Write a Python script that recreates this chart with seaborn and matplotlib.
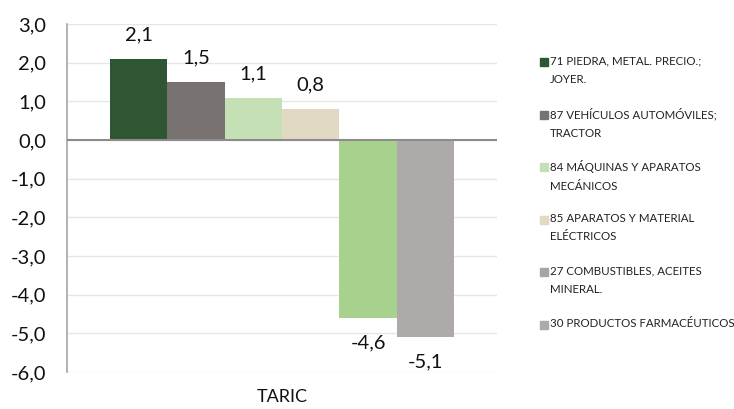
import pandas as pd
import matplotlib.pyplot as plt
import seaborn as sns
from matplotlib.patches import Rectangle

# data
categories = [
    "71 PIEDRA, METAL. PRECIO.;\nJOYER.",
    "87 VEHÍCULOS AUTOMÓVILES;\nTRACTOR",
    "84 MÁQUINAS Y APARATOS\nMECÁNICOS",
    "85 APARATOS Y MATERIAL\nELÉCTRICOS",
    "27 COMBUSTIBLES, ACEITES\nMINERAL.",
    "30 PRODUCTOS FARMACÉUTICOS",
]
values = [2.1, 1.5, 1.1, 0.8, -4.6, -5.1]
group = "TARIC"
bar_colors = ["#2E5632", "#77716F", "#C6E0B5", "#E0DAC3", "#A9D18E", "#AEAAAA"]
legend_colors = ["#2E5632", "#77716F", "#C6E0B5", "#E0DAC3", "#A5A5A5", "#AEAAAA"]
y_ticks = [3, 2, 1, 0, -1, -2, -3, -4, -5, -6]


def fmt(v):
    return f"{v:.1f}".replace(".", ",")


def main():
    sns.set_theme(style="white")
    plt.rcParams["font.family"] = ["Lato", "DejaVu Sans"]

    df = pd.DataFrame({"grupo": [group] * len(values),
                       "producto": categories,
                       "valor": values})

    fig = plt.figure(figsize=(7.34, 4.09), dpi=100)
    ax = fig.add_axes([0.0913, 0.0905, 0.586, 0.8505])

    sns.barplot(data=df, x="grupo", y="valor", hue="producto",
                hue_order=categories, palette=bar_colors, width=0.8,
                saturation=1, legend=False, linewidth=0, ax=ax)

    ax.set_ylim(-6, 3)
    ax.set_xlim(-0.5, 0.5)
    ax.set_yticks(y_ticks)
    ax.set_yticklabels([fmt(t) for t in y_ticks], fontsize=14.5, color="#111111")
    ax.tick_params(axis="y", length=0, pad=15)
    ax.tick_params(axis="x", length=0, labelbottom=False)
    ax.yaxis.grid(True, color="#E6E6E6", linewidth=1)
    ax.set_axisbelow(True)
    for side in ["top", "right", "bottom"]:
        ax.spines[side].set_visible(False)
    ax.spines["left"].set_color("#A6A6A6")
    ax.spines["left"].set_linewidth(1.2)
    ax.axhline(0, color="#8C8C8C", linewidth=1.5, zorder=3)

    ax.set_xlabel("")
    ax.set_ylabel("")
    fig.text(0.385, 0.03, group, ha="center", va="center", fontsize=13,
             color="#111111")

    # value labels
    for bar, v in zip(ax.patches, values):
        x = bar.get_x() + bar.get_width() / 2
        off = 24 if v >= 0 else -25
        ax.annotate(fmt(v), (x, v), xytext=(0, off), textcoords="offset pixels",
                    ha="center", va="center", fontsize=14.5, color="#111111")

    # legend drawn by hand to match the stacked two-line entries
    first = 62
    step = 52.5
    for i, (lab, col) in enumerate(zip(categories, legend_colors)):
        yc = first + i * step
        fig.patches.append(Rectangle((540 / 734, 1 - (yc + 4) / 409), 8 / 734, 8 / 409,
                                     transform=fig.transFigure, color=col))
        fig.text(550 / 734, 1 - (yc - 6.5) / 409, lab, ha="left", va="top",
                 fontsize=8.3, color="#222222", linespacing=1.8)

    fig.savefig("out.png", dpi=100)


if __name__ == "__main__":
    main()
